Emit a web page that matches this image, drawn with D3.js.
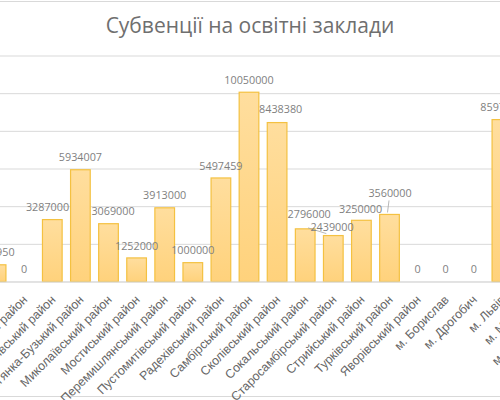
<!DOCTYPE html>
<html>
<head>
<meta charset="utf-8">
<script src="https://cdn.jsdelivr.net/npm/d3@7"></script>
<style>
  body { margin: 0; background: #fff; }
  svg { display: block; }
</style>
</head>
<body>
<div id="container"></div>
<script>
/* DATA */
const districts = [
  "Жидачівський район", "Жовківський район", "Золочівський район",
  "Кам'янка-Бузький район", "Миколаївський район", "Мостиський район",
  "Перемишлянський район", "Пустомитівський район", "Радехівський район",
  "Самбірський район", "Сколівський район", "Сокальський район",
  "Старосамбірський район", "Стрийський район", "Турківський район",
  "Яворівський район", "м. Борислав", "м. Дрогобич", "м. Львів",
  "м. Моршин", "м. Новий Розділ"
];
// the last two sit outside the cropped picture, their values are not visible
const subventions = [
  886950, 0, 3287000, 5934007, 3069000, 1252000, 3913000, 1000000, 5497459,
  10050000, 8438380, 2796000, 2439000, 3250000, 3560000, 0, 0, 0, 8597000,
  null, null
];
const yTicks = [0, 2000000, 4000000, 6000000, 8000000, 10000000, 12000000];

// data labels Excel pushed off their default spot (px)
const labelNudge = {
  "Золочівський район": [-4.8, 0],
  "Миколаївський район": [4.5, 0],
  "Сколівський район": [3.6, -0.7],
  "Сокальський район": [4, -2.7],
  "Старосамбірський район": [-1.3, 3.6],
  "Стрийський район": [-0.8, 1.3],
  "Турківський район": [0.5, -8.7]
};
const leaderLines = ["Старосамбірський район", "Турківський район"];

/* LAYOUT */
const width = 500;
const height = 400;
const step = 28.1;
const x0 = -17.95;   // plot area starts left of the visible crop
const baseY = 281.5;
const topY = 55.5;

const svg = d3.select('#container')
  .append('svg')
  .attr("width", width)
  .attr("height", height)
  .style("font-family", "'Open Sans', 'Noto Sans', sans-serif");

const data = districts.map((d, i) => ({ name: d, value: subventions[i] }));

const xScale = d3.scaleBand()
  .domain(districts)
  .range([x0, x0 + step * districts.length])
  .paddingInner(0.3)
  .paddingOuter(0.15);

const yScale = d3.scaleLinear()
  .domain([0, d3.max(yTicks)])
  .range([baseY, topY]);

// gradient for the bars
const grad = svg.append("defs").append("linearGradient")
  .attr("id", "barFill")
  .attr("x1", 0).attr("y1", 0).attr("x2", 0).attr("y2", 1);
grad.append("stop").attr("offset", "0%").attr("stop-color", "#FFDE9E");
grad.append("stop").attr("offset", "100%").attr("stop-color", "#FFD27C");

// chart border (only top/bottom visible in the crop)
svg.append("rect")
  .attr("x", -5).attr("y", 1.5)
  .attr("width", width + 10).attr("height", 395)
  .attr("fill", "none")
  .attr("stroke", "#d9d9d9")
  .attr("stroke-width", 1);

// Gridlines from a y axis that sits off the left edge (its labels are cropped away)
const yAxis = svg.append("g")
  .attr("transform", `translate(${x0 - 20}, 0)`)
  .call(d3.axisLeft(yScale).tickValues(yTicks).tickSize(-(width + 60)).tickFormat(""));
yAxis.select(".domain").remove();
yAxis.selectAll("line").attr("stroke", "#d9d9d9").attr("stroke-width", 1);

// Bars
svg.selectAll('.bar')
  .data(data.filter(d => d.value !== null && d.value > 0))
  .enter()
  .append('rect')
  .attr('class', 'bar')
  .attr('x', d => xScale(d.name))
  .attr('y', d => yScale(d.value))
  .attr('width', xScale.bandwidth())
  .attr('height', d => baseY - yScale(d.value))
  .attr('fill', 'url(#barFill)')
  .attr('stroke', '#F4C141')
  .attr('stroke-width', 1.2);

// X axis
const xAxis = svg.append("g")
  .attr("transform", `translate(0, ${baseY})`)
  .call(d3.axisBottom(xScale).tickSize(0).tickPadding(0));
xAxis.select(".domain")
  .attr("d", `M-20,0.5H${width + 20}`)
  .attr("stroke", "#d9d9d9");
xAxis.selectAll("text")
  .attr("font-family", null)
  .attr("font-size", 12.4)
  .attr("fill", "#666")
  .attr("text-anchor", "end")
  .attr("dy", null)
  .attr("y", 0)
  .attr("transform", "translate(4, 19) rotate(-45)");

// Data labels
const shown = data.filter(d => d.value !== null);
const labelPos = d => {
  const n = labelNudge[d.name] || [0, 0];
  return [xScale(d.name) + xScale.bandwidth() / 2 + n[0], yScale(d.value) - 12.3 + n[1]];
};

svg.selectAll('.leader')
  .data(shown.filter(d => leaderLines.includes(d.name)))
  .enter()
  .append('line')
  .attr('class', 'leader')
  .attr('x1', d => {
    const p = labelPos(d);
    return d.name === "Турківський район" ? p[0] - 1 : p[0] - 24;
  })
  .attr('y1', d => {
    const p = labelPos(d);
    return d.name === "Турківський район" ? p[1] + 7 : p[1] + 1;
  })
  .attr('x2', d => {
    const c = xScale(d.name) + xScale.bandwidth() / 2;
    return d.name === "Турківський район" ? c - 2 : c - 7;
  })
  .attr('y2', d => yScale(d.value) - 2)
  .attr('stroke', '#a6a6a6')
  .attr('stroke-width', 0.8);

svg.selectAll('.value')
  .data(shown)
  .enter()
  .append('text')
  .attr('class', 'value')
  .attr('x', d => labelPos(d)[0])
  .attr('y', d => labelPos(d)[1])
  .attr('dy', '0.36em')
  .attr('text-anchor', 'middle')
  .attr('font-size', 10.8)
  .attr('fill', '#7f7f7f')
  .text(d => d.value);

// Chart title
svg.append("text")
  .attr("x", width / 2)
  .attr("y", 33)
  .attr("text-anchor", "middle")
  .attr("font-size", 21)
  .attr("fill", "#6f6f6f")
  .text("Субвенції на освітні заклади");
</script>
</body>
</html>
